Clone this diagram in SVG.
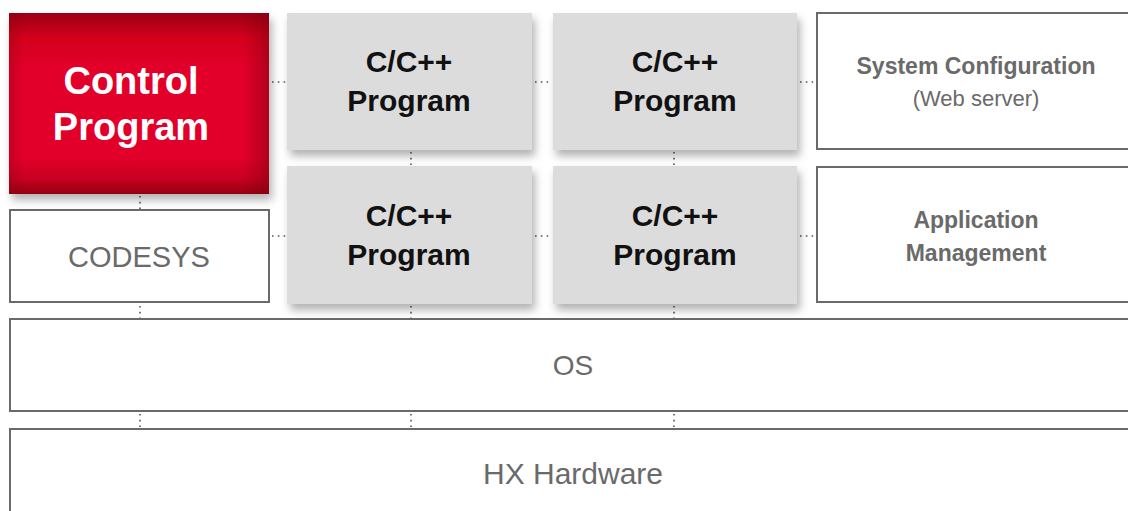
<svg xmlns="http://www.w3.org/2000/svg" width="1128" height="511" viewBox="0 0 1128 511">
  <style>
    .box{fill:#fff;stroke:#6a6a6a;stroke-width:2}
    .prog{fill:#dcdcdc}
    .dot{stroke:#555;stroke-width:1.6;stroke-dasharray:1.6 4.2;fill:none}
    .lbl{font-family:"Liberation Sans",Arial,sans-serif;fill:#6a6a6a;text-anchor:middle}
    .pl{font-family:"Liberation Sans",Arial,sans-serif;font-weight:bold;font-size:30px;fill:#111;text-anchor:middle}
  </style>
  <defs>
    <filter id="sh" x="-10%" y="-10%" width="125%" height="130%">
      <feDropShadow dx="3" dy="6" stdDeviation="4" flood-color="#000" flood-opacity="0.3"/>
    </filter>
    <linearGradient id="rv" x1="0" y1="0" x2="0" y2="1">
      <stop offset="0" stop-color="#9a0012"/>
      <stop offset="0.14" stop-color="#d4001d"/>
      <stop offset="0.3" stop-color="#e2002a"/>
      <stop offset="0.8" stop-color="#e2002a"/>
      <stop offset="0.92" stop-color="#c60020"/>
      <stop offset="1" stop-color="#94000f"/>
    </linearGradient>
    <linearGradient id="rh" x1="0" y1="0" x2="1" y2="0">
      <stop offset="0" stop-color="#7a000c" stop-opacity="0.25"/>
      <stop offset="0.06" stop-color="#7a000c" stop-opacity="0"/>
      <stop offset="0.9" stop-color="#7a000c" stop-opacity="0"/>
      <stop offset="1" stop-color="#7a000c" stop-opacity="0.45"/>
    </linearGradient>
  </defs>
  <rect width="1128" height="511" fill="#fff"/>

  <g id="connectors">
    <line class="dot" x1="272" y1="82" x2="286" y2="82"/>
    <line class="dot" x1="535" y1="82" x2="552" y2="82"/>
    <line class="dot" x1="800" y1="82" x2="815" y2="82"/>
    <line class="dot" x1="272" y1="236" x2="286" y2="236"/>
    <line class="dot" x1="535" y1="236" x2="552" y2="236"/>
    <line class="dot" x1="800" y1="236" x2="815" y2="236"/>
    <line class="dot" x1="140" y1="196" x2="140" y2="209"/>
    <line class="dot" x1="411" y1="152" x2="411" y2="165"/>
    <line class="dot" x1="674" y1="152" x2="674" y2="165"/>
    <line class="dot" x1="140" y1="306" x2="140" y2="318"/>
    <line class="dot" x1="411" y1="306" x2="411" y2="318"/>
    <line class="dot" x1="674" y1="306" x2="674" y2="318"/>
    <line class="dot" x1="140" y1="414" x2="140" y2="427"/>
    <line class="dot" x1="411" y1="414" x2="411" y2="427"/>
    <line class="dot" x1="674" y1="414" x2="674" y2="427"/>
  </g>

  <g id="control-program">
    <rect x="9" y="13" width="260" height="181" fill="url(#rv)" filter="url(#sh)"/>
    <rect x="9" y="13" width="260" height="181" fill="url(#rh)"/>
    <text x="131" y="94" font-family="Liberation Sans,Arial,sans-serif" font-weight="bold" font-size="38" fill="#fff" text-anchor="middle">Control</text>
    <text x="131" y="140" font-family="Liberation Sans,Arial,sans-serif" font-weight="bold" font-size="38" fill="#fff" text-anchor="middle">Program</text>
  </g>

  <g id="codesys">
    <rect class="box" x="10" y="210" width="259" height="92"/>
    <text class="lbl" x="139" y="267" font-size="29">CODESYS</text>
  </g>

  <g id="cpp-1">
    <rect class="prog" x="287" y="13" width="245" height="137" filter="url(#sh)"/>
    <text class="pl" x="409" y="72">C/C++</text>
    <text class="pl" x="409" y="111">Program</text>
  </g>
  <g id="cpp-2">
    <rect class="prog" x="553" y="13" width="244" height="137" filter="url(#sh)"/>
    <text class="pl" x="675" y="72">C/C++</text>
    <text class="pl" x="675" y="111">Program</text>
  </g>
  <g id="cpp-3">
    <rect class="prog" x="287" y="166" width="245" height="138" filter="url(#sh)"/>
    <text class="pl" x="409" y="226">C/C++</text>
    <text class="pl" x="409" y="265">Program</text>
  </g>
  <g id="cpp-4">
    <rect class="prog" x="553" y="166" width="244" height="138" filter="url(#sh)"/>
    <text class="pl" x="675" y="226">C/C++</text>
    <text class="pl" x="675" y="265">Program</text>
  </g>

  <g id="system-configuration">
    <rect class="box" x="817" y="13" width="320" height="136"/>
    <text class="lbl" x="976" y="74" font-size="23" font-weight="bold">System Configuration</text>
    <text class="lbl" x="976" y="106" font-size="22">(Web server)</text>
  </g>
  <g id="application-management">
    <rect class="box" x="817" y="167" width="320" height="135"/>
    <text class="lbl" x="976" y="228" font-size="23" font-weight="bold">Application</text>
    <text class="lbl" x="976" y="261" font-size="23" font-weight="bold">Management</text>
  </g>

  <g id="os">
    <rect class="box" x="10" y="319" width="1130" height="92"/>
    <text class="lbl" x="573" y="375" font-size="28">OS</text>
  </g>
  <g id="hx-hardware">
    <rect class="box" x="10" y="429" width="1130" height="100"/>
    <text class="lbl" x="573" y="484" font-size="30">HX Hardware</text>
  </g>
</svg>
